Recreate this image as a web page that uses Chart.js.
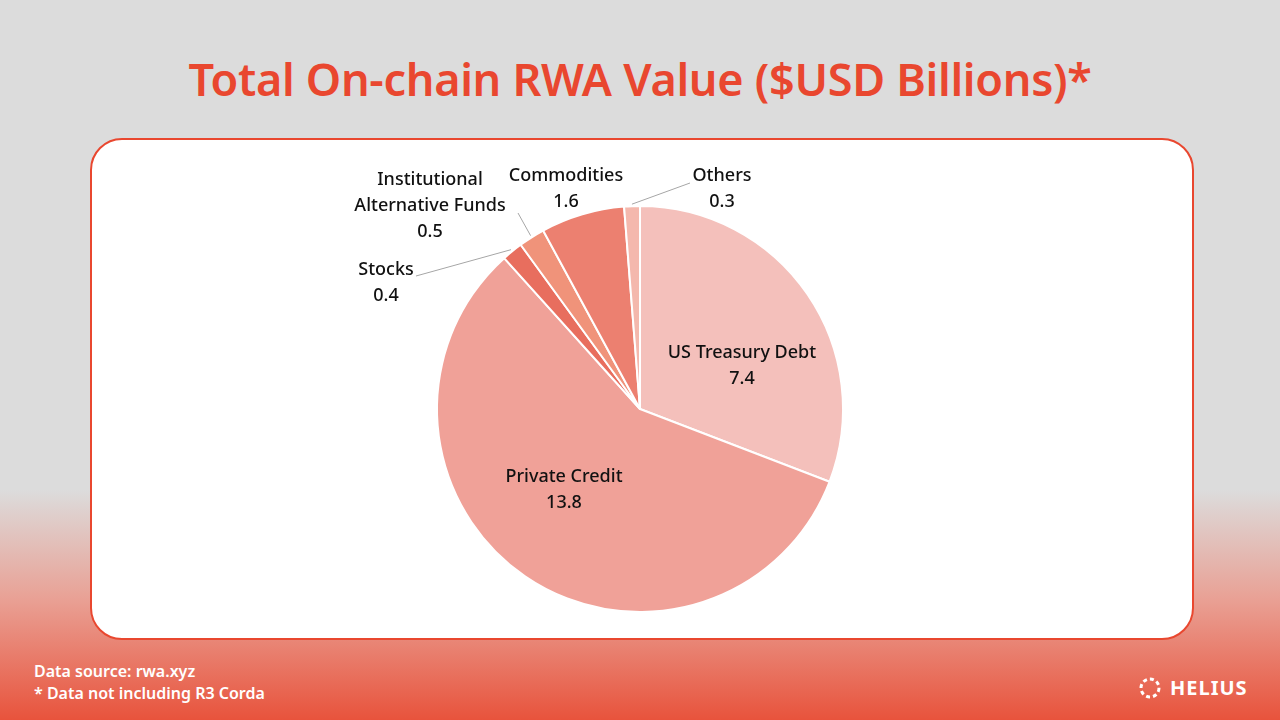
<!DOCTYPE html>
<html><head><meta charset="utf-8">
<script src="https://cdn.jsdelivr.net/npm/chart.js@4"></script>
<style>
html,body{margin:0;padding:0;width:1280px;height:720px;overflow:hidden;font-family:"Noto Sans",sans-serif}
body{background:linear-gradient(to bottom,#dcdcdc 0px,#dcdcdc 490px,#e9a094 600px,#e8533c 720px);position:relative}
#title{position:absolute;top:48px;left:0;width:1280px;text-align:center;color:#e9472f;font-size:45px;font-weight:600;letter-spacing:-0.3px}
#box{position:absolute;left:90px;top:138px;width:1100px;height:498px;background:#fff;border:2px solid #e9472f;border-radius:32px}
#c{position:absolute;left:0;top:0}
#foot{position:absolute;left:34px;top:660px;color:#fff;font-size:16px;font-weight:600;line-height:22px}
#logo{position:absolute;left:1138px;top:674px;color:#fff;font-size:20px;font-weight:700;letter-spacing:1px;display:flex;align-items:center;gap:8px}
</style></head><body>
<div id="title">Total On-chain RWA Value ($USD Billions)*</div>
<div id="box"></div>
<div id="foot">Data source: rwa.xyz<br>* Data not including R3 Corda</div>
<div id="logo"><svg width="24" height="24" viewBox="0 0 24 24"><circle cx="12" cy="12" r="9" fill="none" stroke="#fff" stroke-width="3" stroke-dasharray="4 3"/></svg>HELIUS</div>
<canvas id="c" width="1280" height="720"></canvas>
<script>
const categories=["US Treasury Debt","Private Credit","Stocks","Institutional Alternative Funds","Commodities","Others"];
const values=[7.4,13.8,0.4,0.5,1.6,0.3];
const valueLabels=["7.4","13.8","0.4","0.5","1.6","0.3"];
const colors=["#f4c0bb","#f0a198","#e86e5e","#f0937a","#ec8070","#f4b8ad"];
// label block centers relative to pie center; optional leader-line start
const labelPlace=[
 {x:102,y:-43,lines:["US Treasury Debt"]},
 {x:-76,y:81,lines:["Private Credit"]},
 {x:-254,y:-126,lines:["Stocks"],lx:-224,ly:-133},
 {x:-210,y:-203,lines:["Institutional","Alternative Funds"],lx:-122,ly:-196},
 {x:-74,y:-220,lines:["Commodities"]},
 {x:82,y:-220,lines:["Others"],lx:50,ly:-226}
];
const labelPlugin={id:'lbl',afterDatasetsDraw(chart){
 const ctx=chart.ctx;const meta=chart.getDatasetMeta(0);
 ctx.save();ctx.fillStyle='#111';ctx.font='500 18px "Noto Sans"';ctx.textAlign='center';ctx.textBaseline='middle';
 meta.data.forEach((arc,i)=>{
  const p=labelPlace[i];const cx=arc.x,cy=arc.y,r=arc.outerRadius;
  const mid=(arc.startAngle+arc.endAngle)/2;
  const lines=p.lines.concat([valueLabels[i]]);
  const x=cx+p.x,y=cy+p.y-(lines.length-1)*13;
  if(p.lx!==undefined){ctx.strokeStyle='#a6a6a6';ctx.lineWidth=1;ctx.beginPath();
    ctx.moveTo(cx+p.lx,cy+p.ly);ctx.lineTo(cx+Math.cos(mid)*(r+2),cy+Math.sin(mid)*(r+2));ctx.stroke();}
  lines.forEach((t,k)=>ctx.fillText(t,x,y+k*26));
 });ctx.restore();}};
new Chart(document.getElementById('c'),{type:'pie',
 data:{labels:categories,datasets:[{data:values,backgroundColor:colors,borderColor:'#fff',borderWidth:2}]},
 options:{responsive:false,animation:false,layout:{padding:{left:436,right:436,top:205,bottom:107}},
  plugins:{legend:{display:false},tooltip:{enabled:false}}},plugins:[labelPlugin]});
</script></body></html>
